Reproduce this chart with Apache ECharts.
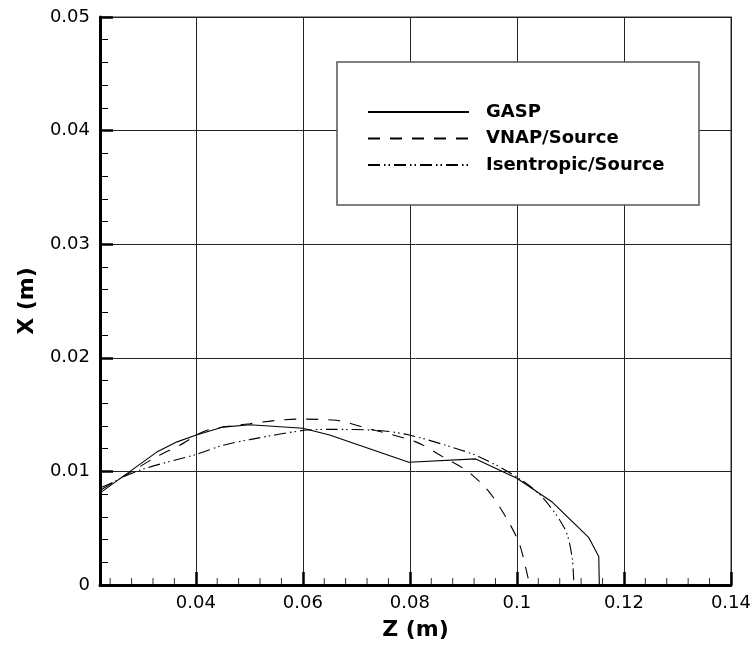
<!DOCTYPE html>
<html>
<head>
<meta charset="utf-8">
<script src="https://cdn.jsdelivr.net/npm/echarts@6/dist/echarts.min.js"></script>
<style>html,body{margin:0;padding:0;background:#fff;}#c{width:754px;height:646px;}</style>
</head>
<body>
<div id="c"></div>
<script>
// Series data: [Z (m), X (m)]
const gaspZ = [0.0224, 0.0277, 0.0327, 0.0365, 0.0401, 0.0451, 0.0501, 0.0600, 0.0650, 0.0798, 0.0923, 0.1000, 0.1066, 0.1134, 0.1153, 0.1154];
const gaspX = [0.0082, 0.0100, 0.0117, 0.0126, 0.0132, 0.0139, 0.0141, 0.0138, 0.0132, 0.0108, 0.0111, 0.0094, 0.0073, 0.0042, 0.0025, 0.0000];

const vnapZ = [0.0224, 0.0252, 0.0327, 0.0370, 0.0420, 0.0501, 0.0588, 0.0662, 0.0712, 0.0811, 0.0861, 0.0908, 0.0948, 0.0979, 0.1004, 0.1021, 0.1023];
const vnapX = [0.0086, 0.0092, 0.0113, 0.0123, 0.0136, 0.0142, 0.0146, 0.0145, 0.0139, 0.0126, 0.0113, 0.0100, 0.0082, 0.0060, 0.0037, 0.0006, 0.0000];

const isenZ = [0.0224, 0.0264, 0.0308, 0.0401, 0.0451, 0.0501, 0.0600, 0.0650, 0.0743, 0.0799, 0.0867, 0.0929, 0.1000, 0.1046, 0.1090, 0.1103, 0.1106, 0.1107];
const isenX = [0.0084, 0.0095, 0.0103, 0.0115, 0.0123, 0.0128, 0.0136, 0.0137, 0.0136, 0.0132, 0.0123, 0.0113, 0.0095, 0.0078, 0.0049, 0.0025, 0.0006, 0.0000];

const seriesNames = ['GASP', 'VNAP/Source', 'Isentropic/Source'];

// Axes
const xMin = 0.0221, xMax = 0.14;
const yMin = 0, yMax = 0.05, yStep = 0.01;
const xTickLabels = [0.04, 0.06, 0.08, 0.1, 0.12, 0.14];
const xMinorTicks = [0.024, 0.028, 0.032, 0.036, 0.044, 0.048, 0.052, 0.056, 0.064, 0.068, 0.072, 0.076,
  0.084, 0.088, 0.092, 0.096, 0.104, 0.108, 0.112, 0.116, 0.124, 0.128, 0.132, 0.136];

const zip = (a, b) => a.map((v, i) => [v, b[i]]);
const fmt = v => String(parseFloat(v.toFixed(4)));

const chart = echarts.init(document.getElementById('c'), null, {renderer: 'canvas'});
const FONT = 'DejaVu Sans';

chart.setOption({
  animation: false,
  backgroundColor: '#fff',
  grid: {left: 100, right: 22, top: 17, bottom: 57, show: true, borderColor: '#777', borderWidth: 1.5, backgroundColor: 'transparent'},
  xAxis: {
    type: 'value', min: xMin, max: xMax, splitNumber: 6,
    name: 'Z (m)', nameLocation: 'middle', nameGap: 34,
    nameTextStyle: {fontFamily: FONT, fontWeight: 'bold', fontSize: 22, color: '#000'},
    axisLine: {show: true, onZero: false, lineStyle: {color: '#000', width: 3}},
    axisTick: {show: true, inside: true, length: 13, lineStyle: {color: '#000', width: 2.5}},
    axisLabel: {show: true, showMinLabel: false, margin: 9, fontFamily: FONT, fontSize: 18, color: '#000',
      formatter: v => xTickLabels.some(t => Math.abs(t - v) < 1e-9) ? fmt(v) : ''},
    splitLine: {show: true, lineStyle: {color: '#222', width: 1}},
    minorTick: {show: false}
  },
  yAxis: {
    type: 'value', min: yMin, max: yMax, interval: yStep,
    name: 'X (m)', nameLocation: 'middle', nameGap: 62, nameRotate: 90,
    nameTextStyle: {fontFamily: FONT, fontWeight: 'bold', fontSize: 22, color: '#000'},
    axisLine: {show: true, onZero: false, lineStyle: {color: '#000', width: 3}},
    axisTick: {show: true, inside: true, length: 13, lineStyle: {color: '#000', width: 2.5}},
    minorTick: {show: true, splitNumber: 5, length: 8, lineStyle: {color: '#000', width: 1}},
    axisLabel: {margin: 10, fontFamily: FONT, fontSize: 18, color: '#000', formatter: v => fmt(v)},
    splitLine: {show: true, lineStyle: {color: '#222', width: 1}}
  },
  legend: {
    data: seriesNames, orient: 'vertical', left: 367, top: 103, padding: 0,
    itemWidth: 101, itemHeight: 14, itemGap: 8.5, z: 10,
    itemStyle: {opacity: 0},
    textStyle: {fontFamily: FONT, fontWeight: 'bold', fontSize: 18, color: '#000', padding: [0, 0, 0, 12]}
  },
  graphic: [{
    type: 'rect', z: 5, silent: true,
    shape: {x: 337, y: 62, width: 362, height: 143},
    style: {fill: '#fff', stroke: '#555', lineWidth: 1.5}
  }],
  series: [
    {name: seriesNames[0], type: 'line', data: zip(gaspZ, gaspX), symbol: 'none', z: 3,
      lineStyle: {color: '#000', width: 1.1, type: 'solid'}, itemStyle: {color: '#000'}},
    {name: seriesNames[1], type: 'line', data: zip(vnapZ, vnapX), symbol: 'none', z: 3, smooth: 0.3,
      lineStyle: {color: '#000', width: 1.1, type: [12, 10]}, itemStyle: {color: '#000'}},
    {name: seriesNames[2], type: 'line', data: zip(isenZ, isenX), symbol: 'none', z: 3, smooth: 0.3,
      lineStyle: {color: '#000', width: 1.1, type: [12, 4, 1.5, 3, 1.5, 4]}, itemStyle: {color: '#000'}},
    {name: 'xMinorTicks', type: 'scatter', data: xMinorTicks.map(v => [v, yMin]), silent: true, z: 4,
      symbol: 'rect', symbolSize: [1, 7], symbolOffset: [0, -3.5], itemStyle: {color: '#000'}}
  ]
});
</script>
</body>
</html>
